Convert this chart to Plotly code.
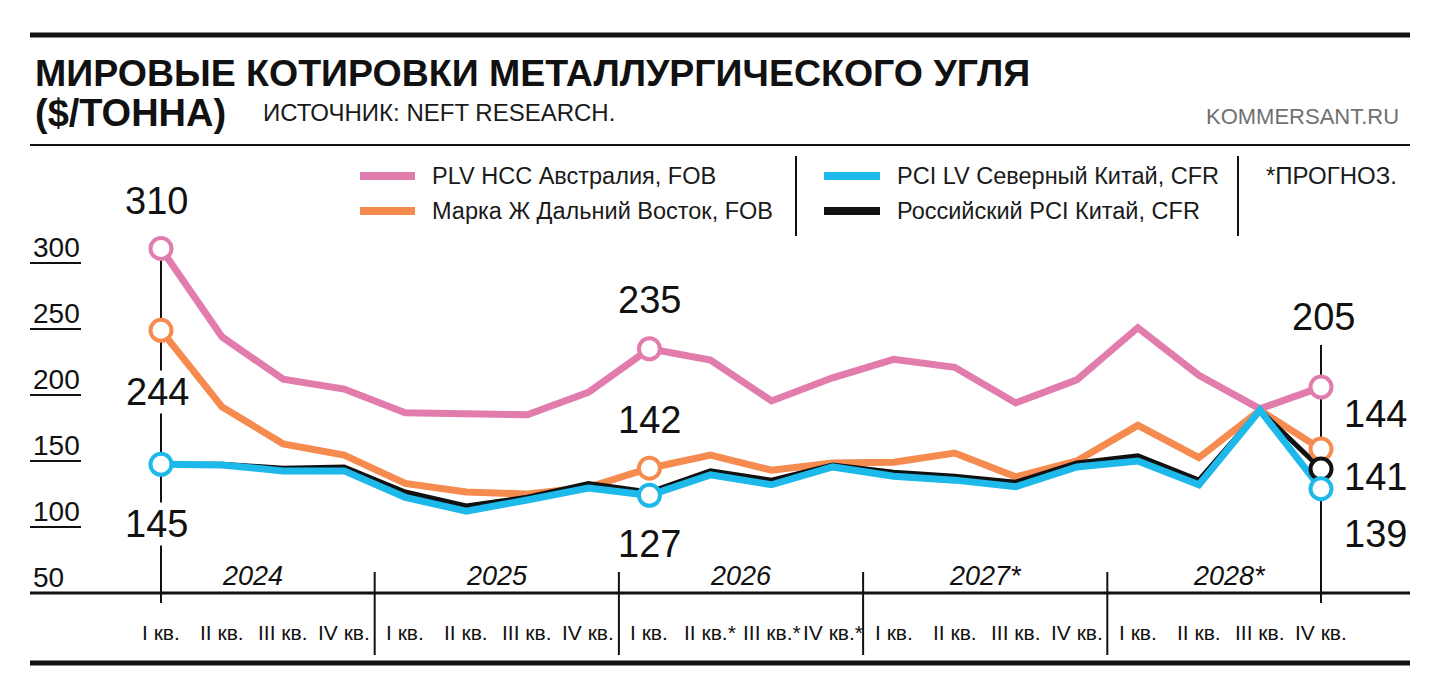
import plotly.graph_objects as go

# ---------------- data ----------------
quarter_labels = ["I кв.", "II кв.", "III кв.", "IV кв.",
                  "I кв.", "II кв.", "III кв.", "IV кв.",
                  "I кв.", "II кв.*", "III кв.*", "IV кв.*",
                  "I кв.", "II кв.", "III кв.", "IV кв.",
                  "I кв.", "II кв.", "III кв.", "IV кв."]
years = ["2024", "2025", "2026", "2027*", "2028*"]

plv_hcc = [311, 244, 212, 204.5, 186.5, 185.5, 185, 202, 235, 226.5,
           195.5, 213, 227, 221, 194, 211.5, 251, 215, 189.5, 206]
marka_zh = [249, 191, 163, 154.5, 133, 126.5, 125, 130, 144.5, 154.5,
            143, 148.5, 149, 156, 138, 150, 177, 152.5, 188.5, 159]
pci_lv = [147.5, 147, 142.5, 142.5, 122.5, 112, 120.5, 129.5, 124, 139.5,
          132, 145.5, 138.5, 135.5, 130.5, 145.5, 150, 132, 188.5, 129]
ru_pci = [147.5, 147.5, 144.5, 145.5, 126.5, 116, 122.5, 133, 126.5, 142.5,
          135.5, 147, 141.5, 138.5, 134, 148.5, 154, 135.5, 188.5, 144]

series_names = ["PLV HCC Австралия, FOB", "Марка Ж Дальний Восток, FOB",
                "PCI LV Северный Китай, CFR", "Российский PCI Китай, CFR"]
y_ticks = [300, 250, 200, 150, 100, 50]

# labelled points: (text, index)
labels_plv = [("310", 0), ("235", 8), ("205", 19)]
labels_zh = [("244", 0), ("142", 8), ("144", 19)]
labels_lv = [("145", 0), ("127", 8), ("139", 19)]
labels_ru = [("141", 19)]

# ---------------- style ----------------
PINK = "#E27CAD"
ORANGE = "#F68B50"
BLUE = "#1DB9EA"
BLACK = "#111111"
SANS = "Liberation Sans, Arial, sans-serif"

W, H = 1440, 697
X0, X19 = 161.0, 1321.0
S = (X19 - X0) / 19.0
PY50, PPU = 593.0, 1.32  # pixel of value 50, pixels per unit
Y_BOT, Y_TOP = 668.0, 140.0


def px(x):
    return x / W


def py(y):
    return 1 - y / H


xs = list(range(len(quarter_labels)))

fig = go.Figure()

for vals, col, wid in [(plv_hcc, PINK, 7), (marka_zh, ORANGE, 7),
                       (ru_pci, BLACK, 5), (pci_lv, BLUE, 7)]:
    fig.add_trace(go.Scatter(x=xs, y=vals, mode="lines",
                             line=dict(color=col, width=wid),
                             hoverinfo="skip", cliponaxis=False))

for vals, col, labs in [(plv_hcc, PINK, labels_plv), (marka_zh, ORANGE, labels_zh),
                        (ru_pci, BLACK, labels_ru), (pci_lv, BLUE, labels_lv)]:
    idx = [i for _, i in labs]
    fig.add_trace(go.Scatter(x=idx, y=[vals[i] for i in idx], mode="markers",
                             marker=dict(symbol="circle", size=21, color="white",
                                         line=dict(color=col, width=4)),
                             hoverinfo="skip", cliponaxis=False))

shapes = []
ann = []

# horizontal rules
shapes.append(dict(type="line", xref="paper", yref="paper", x0=px(30), x1=px(1410),
                   y0=py(35), y1=py(35), line=dict(color=BLACK, width=5)))
shapes.append(dict(type="line", xref="paper", yref="paper", x0=px(30), x1=px(1410),
                   y0=py(145), y1=py(145), line=dict(color=BLACK, width=2)))
shapes.append(dict(type="line", xref="paper", yref="paper", x0=px(30), x1=px(1410),
                   y0=py(663), y1=py(663), line=dict(color=BLACK, width=5)))
# x axis line at value 50
shapes.append(dict(type="line", xref="paper", yref="y", x0=px(30), x1=px(1410),
                   y0=50, y1=50, line=dict(color=BLACK, width=3)))

# y ticks with underlines
for v in y_ticks:
    if v != 50:
        shapes.append(dict(type="line", xref="paper", yref="y", x0=px(30), x1=px(81),
                           y0=v, y1=v, line=dict(color=BLACK, width=2)))
    ann.append(dict(text=str(v), xref="paper", yref="y", x=px(31), y=v,
                    xanchor="left", yanchor="middle", yshift=16, showarrow=False,
                    font=dict(family=SANS, size=28, color=BLACK)))

# year separators and year labels
for k, yr in enumerate(years):
    if k > 0:
        xsep = 4 * k - 0.5
        shapes.append(dict(type="line", xref="x", yref="paper", x0=xsep, x1=xsep,
                           y0=py(572), y1=py(655), line=dict(color=BLACK, width=2)))
    ann.append(dict(text="<i>" + yr + "</i>", xref="x", yref="paper", x=4 * k + 1.5,
                    y=py(576), xanchor="center", yanchor="middle", showarrow=False,
                    font=dict(family=SANS, size=27, color=BLACK)))

# quarter labels
for i, q in enumerate(quarter_labels):
    ann.append(dict(text=q, xref="x", yref="paper", x=i, y=py(632),
                    xanchor="center", yanchor="middle", showarrow=False,
                    font=dict(family=SANS, size=21, color=BLACK)))

# vertical leader lines at first and last quarter
shapes.append(dict(type="line", xref="x", yref="paper", x0=0, x1=0,
                   y0=py(252), y1=py(603), line=dict(color=BLACK, width=2), layer="below"))
shapes.append(dict(type="line", xref="x", yref="paper", x0=19, x1=19,
                   y0=py(345), y1=py(603), line=dict(color=BLACK, width=2), layer="below"))

# value labels (pixel centre positions)
val_pos = {"310": (0, 201, "center", -5), "244": (0, 392, "center", -4),
           "145": (0, 524, "center", -5), "235": (8, 300, "center", 0),
           "142": (8, 420, "center", 0), "127": (8, 544, "center", 0),
           "205": (19, 317, "center", 2), "144": (19, 414, "left", 22),
           "141": (19, 477, "left", 22), "139": (19, 534, "left", 22)}
for labs in (labels_plv, labels_zh, labels_lv, labels_ru):
    for t, i in labs:
        _, ycen, xa, xsh = val_pos[t]
        ann.append(dict(text=t, xref="x", yref="paper", x=i, y=py(ycen),
                        xanchor=xa, yanchor="middle", xshift=xsh, showarrow=False,
                        bgcolor="white", borderpad=0,
                        font=dict(family=SANS, size=38, color=BLACK)))

# title block
ann.append(dict(text="<b>МИРОВЫЕ КОТИРОВКИ МЕТАЛЛУРГИЧЕСКОГО УГЛЯ</b>", xref="paper",
                yref="paper", x=px(33), y=py(73), xanchor="left", yanchor="middle",
                showarrow=False, font=dict(family=SANS, size=37.5, color=BLACK)))
ann.append(dict(text="<b>($/ТОННА)</b>", xref="paper", yref="paper", x=px(33), y=py(113),
                xanchor="left", yanchor="middle", showarrow=False,
                font=dict(family=SANS, size=38, color=BLACK)))
ann.append(dict(text="ИСТОЧНИК: NEFT RESEARCH.", xref="paper", yref="paper", x=px(261),
                y=py(113), xanchor="left", yanchor="middle", showarrow=False,
                font=dict(family=SANS, size=24, color="#1a1a1a")))
ann.append(dict(text="KOMMERSANT.RU", xref="paper", yref="paper", x=px(1401), y=py(117),
                xanchor="right", yanchor="middle", showarrow=False,
                font=dict(family=SANS, size=22, color="#707070")))

# legend
leg = [(series_names[0], PINK, 360, 415, 430, 176),
       (series_names[1], ORANGE, 360, 415, 430, 211),
       (series_names[2], BLUE, 824, 880, 895, 176),
       (series_names[3], BLACK, 824, 880, 895, 211)]
for name, col, a, b, tx, ty in leg:
    shapes.append(dict(type="line", xref="paper", yref="paper", x0=px(a), x1=px(b),
                       y0=py(ty), y1=py(ty), line=dict(color=col, width=8)))
    ann.append(dict(text=name, xref="paper", yref="paper", x=px(tx), y=py(ty),
                    xanchor="left", yanchor="middle", showarrow=False,
                    font=dict(family=SANS, size=23.5, color="#1a1a1a")))
for xd in (796, 1238):
    shapes.append(dict(type="line", xref="paper", yref="paper", x0=px(xd), x1=px(xd),
                       y0=py(156), y1=py(236), line=dict(color=BLACK, width=2)))
ann.append(dict(text="*ПРОГНОЗ.", xref="paper", yref="paper", x=px(1264), y=py(176),
                xanchor="left", yanchor="middle", showarrow=False,
                font=dict(family=SANS, size=24, color="#1a1a1a")))

fig.update_layout(
    width=W, height=H, autosize=False,
    margin=dict(l=0, r=0, t=0, b=0, pad=0),
    paper_bgcolor="white", plot_bgcolor="white", showlegend=False,
    xaxis=dict(domain=[0, 1], range=[-X0 / S, (W - X0) / S], visible=False, fixedrange=True),
    yaxis=dict(domain=[1 - Y_BOT / H, 1 - Y_TOP / H],
               range=[50 - (Y_BOT - PY50) / PPU, 50 + (PY50 - Y_TOP) / PPU],
               visible=False, fixedrange=True),
    shapes=shapes, annotations=ann,
)

fig.write_html("out.html")
